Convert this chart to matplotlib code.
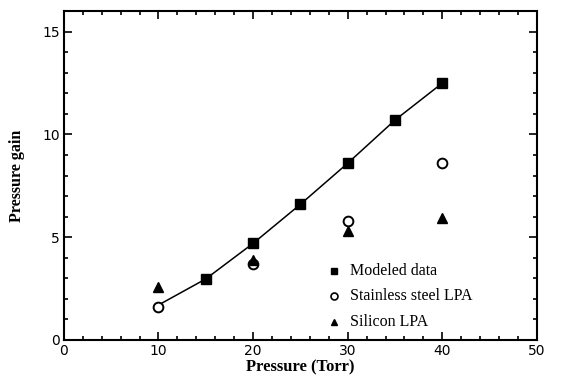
import matplotlib.pyplot as plt
from matplotlib.ticker import MultipleLocator

model_p = [10, 15, 20, 25, 30, 35, 40]
model_gain = [1.7, 2.97, 4.7, 6.6, 8.6, 10.7, 12.5]

steel_p = [10, 20, 30, 40]
steel_gain = [1.6, 3.7, 5.8, 8.6]

silicon_p = [10, 20, 30, 40]
silicon_gain = [2.6, 3.9, 5.3, 5.95]

fig = plt.figure(figsize=(5.7, 3.85), dpi=100)
ax = fig.add_axes([0.112, 0.117, 0.83, 0.854])

ax.plot(model_p, model_gain, color='black', linewidth=1.1, zorder=2)
ax.plot(model_p[1:], model_gain[1:], 's', color='black', markersize=6.5,
        zorder=3)
ax.plot(steel_p, steel_gain, 'o', mfc='white', mec='black', mew=1.4,
        markersize=7, zorder=4)
ax.plot(silicon_p, silicon_gain, '^', color='black', markersize=7, zorder=4)

# legend entries drawn by hand like the original
leg = [("s", dict(color='black'), "Modeled data"),
       ("o", dict(mfc='white', mec='black', mew=1.2), "Stainless steel LPA"),
       ("^", dict(color='black'), "Silicon LPA")]
for i, (m, kw, txt) in enumerate(leg):
    y = 0.21 - i * 0.077
    ax.plot([0.57], [y], m, markersize=5, transform=ax.transAxes, **kw)
    ax.text(0.605, y, txt, transform=ax.transAxes, va='center', ha='left',
            fontsize=11.5, family='Liberation Serif')

ax.set_xlim(0, 50)
ax.set_ylim(0, 16)
ax.xaxis.set_major_locator(MultipleLocator(10))
ax.xaxis.set_minor_locator(MultipleLocator(2))
ax.yaxis.set_major_locator(MultipleLocator(5))
ax.yaxis.set_minor_locator(MultipleLocator(1))
ax.tick_params(which='both', direction='in', top=True, right=True,
               labelsize=10, width=1.2)
ax.tick_params(which='major', length=6, pad=3)
ax.tick_params(which='minor', length=3)
for s in ax.spines.values():
    s.set_linewidth(1.5)

ax.set_xlabel("Pressure (Torr)", family='Liberation Serif', fontweight='bold',
              fontsize=12, labelpad=1)
ax.set_ylabel("Pressure gain", family='Liberation Serif', fontweight='bold',
              fontsize=11.5, labelpad=12)

plt.savefig("out.png", dpi=100)
